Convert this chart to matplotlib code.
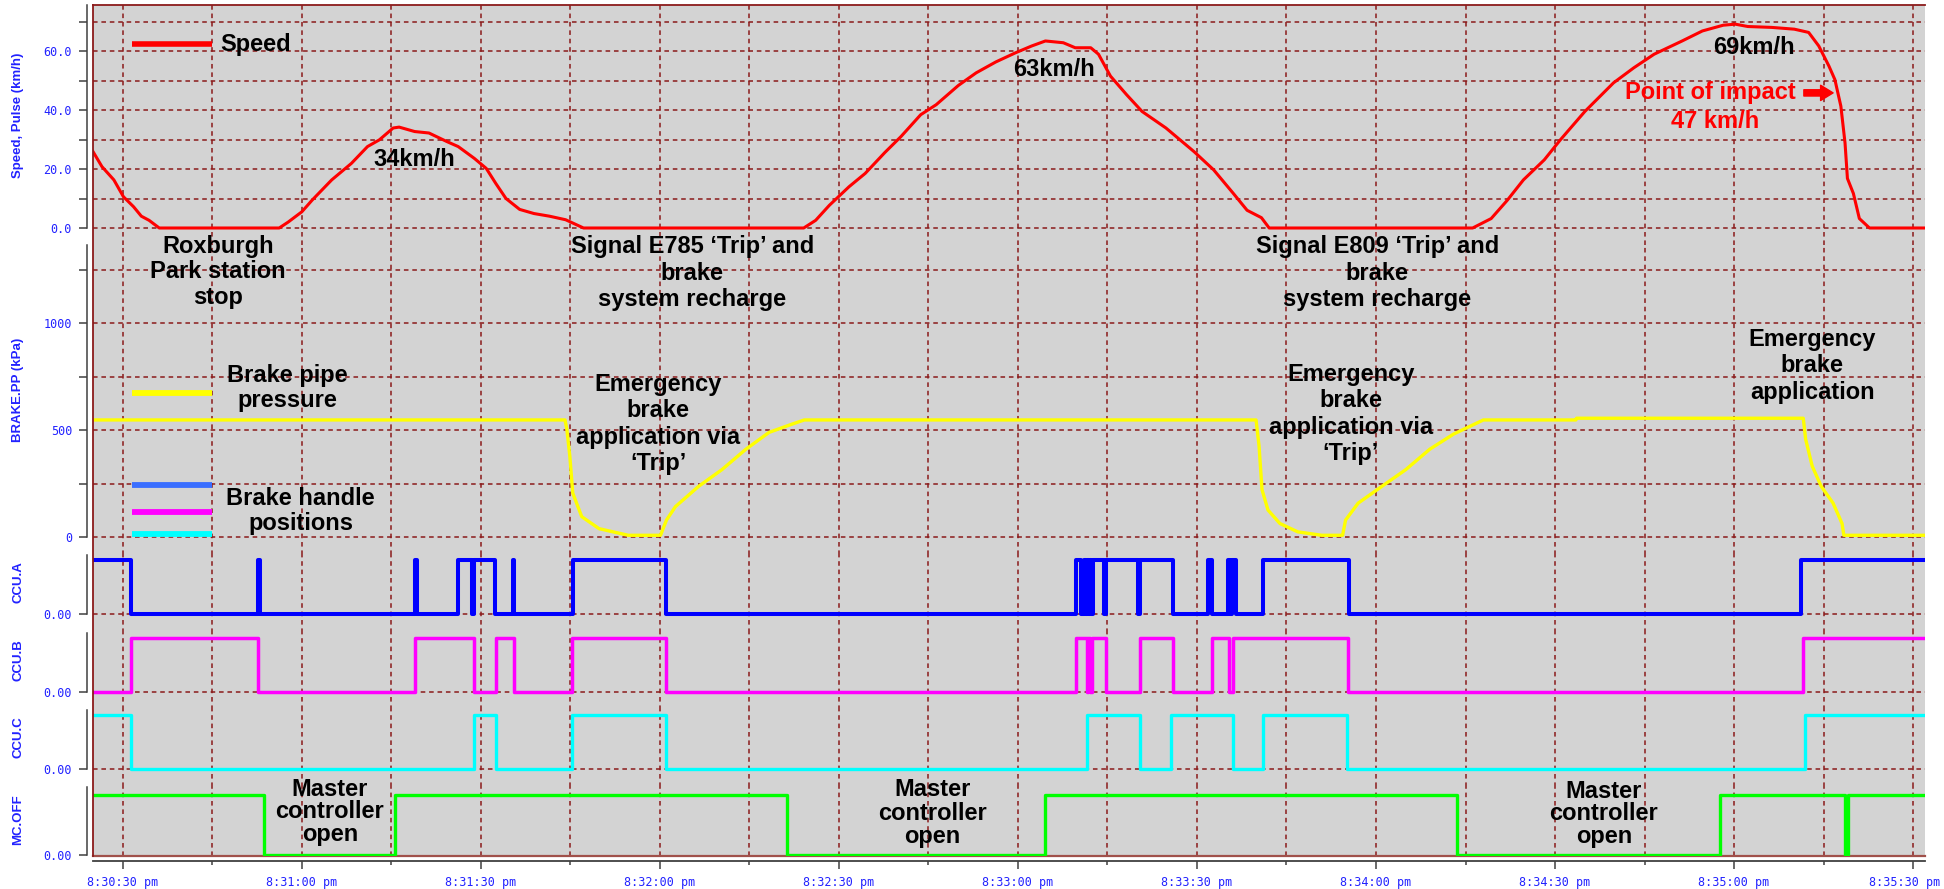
import matplotlib
matplotlib.use('Agg')
import matplotlib.pyplot as plt
import matplotlib.transforms as mtransforms
from matplotlib.lines import Line2D
from matplotlib.ticker import MultipleLocator, FixedLocator, FixedFormatter

# time in seconds after 8:30:00 pm
speed_t = [25, 26.5, 28.5, 30.1, 31.8, 33.1, 34.4, 36.1, 56.2, 57.7, 60, 61.7, 65, 68.3, 71, 73,
           75.3, 76.3, 78.9, 81.3, 84.3, 86.2, 88.9, 90.9, 92.5, 94.2, 96.5, 98.9, 101.5, 104.2, 107.2,
           144.1, 146.1, 148.4, 151.7, 154.4, 157.7, 160.4, 163.7, 166.3, 170, 173, 176.3, 179.6, 182.3,
           184.6, 187.6, 189.6, 192.2, 193.5, 195.5, 198.2, 200.8, 204.8, 209.5, 212.8, 216.1, 218.4,
           220.8, 222.1,
           256.2, 259.3, 262, 264.7, 268.2, 270.9, 275, 279.8, 283.2, 286.6, 291.3, 294.7, 298.2, 300.2,
           302.3, 306.3, 310.1, 312.5, 314.2, 315.9, 316.9, 317.9, 318.6, 319, 320, 321, 322.7, 332]
speed_v = [25.9, 20.8, 16.3, 10.6, 7.2, 4.0, 2.6, 0, 0, 2.0, 5.5, 9.4, 16.3, 21.9, 27.6, 29.9,
           33.9, 34.2, 32.7, 32.2, 29.3, 27.6, 23.6, 20.2, 15.1, 10.0, 6.3, 4.9, 4.0, 2.8, 0,
           0, 2.6, 7.7, 14.0, 18.5, 25.6, 31.0, 38.4, 41.8, 48.3, 52.6, 56.3, 59.4, 61.7,
           63.4, 62.8, 61.1, 61.1, 58.9, 51.5, 45.2, 39.5, 33.9, 25.9, 19.7, 11.7, 6.0,
           3.5, 0,
           0, 3.2, 9.4, 16.3, 23.1, 29.9, 39.5, 49.2, 54.3, 58.9, 63.4, 66.8, 68.75, 69.1,
           68.3, 68.0, 67.4, 66.3, 61.7, 54.9, 50.3, 41.3, 28.8, 16.8, 11.7, 3.2, 0, 0]

bp_t = [25, 104.1, 104.4, 104.9, 105.4, 106.9, 109.8, 114.7, 120.1, 121.1, 122.6, 126.5, 130.4, 134.4,
        138.3, 142.2, 144.2, 219.9, 220.4, 220.9, 221.9, 223.9, 226.9, 230.9, 234.4, 234.9, 237, 241,
        245, 249, 253, 258, 273.5, 273.6, 311.6, 312, 313.1, 314.6, 316.6, 318.1, 318.4, 332]
bp_v = [547, 547, 505, 379, 205, 95, 39, 8, 8, 79, 142, 237, 315, 410,
        489, 528, 547, 547, 426, 221, 126, 63, 24, 8, 8, 79, 158, 237,
        315, 410, 481, 547, 547, 555, 555, 457, 331, 237, 158, 63, 8, 8]

ccua_t = [25, 31.3, 52.7, 53.0, 79.0, 79.3, 86.2, 88.5, 88.9, 92.3, 95.3, 95.6, 105.4, 121.0,
          189.7, 190.5, 191.1, 191.4, 191.6, 191.9, 192.1, 192.3, 192.5, 194.5, 194.8, 200.2,
          200.5, 206.0, 211.8, 212.6, 215.2, 215.6, 215.9, 216.6, 221.1, 235.4, 311.3, 332]
ccua_v = [1, 0, 1, 0, 1, 0, 1, 0, 1, 0, 1, 0, 1, 0,
          1, 0, 1, 0, 1, 0, 1, 0, 1, 0, 1, 0,
          1, 0, 1, 0, 1, 0, 1, 0, 1, 0, 1, 1]

ccub_t = [25, 31.3, 52.7, 79.0, 88.8, 92.5, 95.5, 105.2, 121.1, 189.7, 191.6, 191.8, 192.1, 192.4,
          194.8, 200.4, 205.9, 212.6, 215.4, 216.0, 235.3, 311.6, 332]
ccub_v = [0, 1, 0, 1, 0, 1, 0, 1, 0, 1, 0, 1, 0, 1,
          0, 1, 0, 1, 0, 1, 0, 1, 1]

ccuc_t = [25, 31.3, 88.8, 92.5, 105.2, 121.0, 191.6, 200.4, 205.6, 216.1, 221.1, 235.1, 311.9, 332]
ccuc_v = [1, 0, 1, 0, 1, 0, 1, 0, 1, 0, 1, 0, 1, 1]

mc_t = [25, 53.6, 75.6, 141.3, 184.5, 253.6, 297.6, 318.6, 319.1, 332]
mc_v = [1, 0, 1, 0, 1, 0, 1, 0, 1, 1]

x_ticks = [30, 60, 90, 120, 150, 180, 210, 240, 270, 300, 330]
x_labels = ['8:30:30 pm', '8:31:00 pm', '8:31:30 pm', '8:32:00 pm', '8:32:30 pm', '8:33:00 pm',
            '8:33:30 pm', '8:34:00 pm', '8:34:30 pm', '8:35:00 pm', '8:35:30 pm']

W, H = 1944, 889
X0, X1 = 93, 1925
T0, T1 = 25, 332
BG = '#D3D3D3'
GRID = '#8B1A1A'
TICKBLUE = '#2222FF'
SPINE = '#404040'
PX = 0.72  # points per pixel at dpi 100

fig = plt.figure(figsize=(W / 100, H / 100), dpi=100)
fig.patch.set_facecolor('white')


def panel(top, bottom, lo, hi):
    ax = fig.add_axes([X0 / W, 1 - bottom / H, (X1 - X0) / W, (bottom - top) / H])
    ax.set_facecolor(BG)
    ax.set_xlim(T0, T1)
    ax.set_ylim(lo, hi)
    for s in ['top', 'right', 'bottom']:
        ax.spines[s].set_visible(False)
    ax.spines['left'].set_position(('outward', 6 * PX))
    ax.spines['left'].set_bounds(0, hi)
    ax.spines['left'].set_color(SPINE)
    ax.spines['left'].set_linewidth(1.1)
    ax.xaxis.set_major_locator(FixedLocator(x_ticks))
    ax.xaxis.set_minor_locator(MultipleLocator(15))
    ax.tick_params(axis='x', which='both', bottom=False, labelbottom=False)
    ax.tick_params(axis='y', which='both', direction='out', length=8 * PX, width=1.1, color=SPINE,
                   labelcolor=TICKBLUE, labelsize=8.5, pad=5, labelfontfamily='DejaVu Sans Mono')
    ax.grid(True, axis='x', which='both', color=GRID, linestyle=(0, (3, 2.5)), linewidth=1.1)
    ax.set_axisbelow(True)
    return ax


# speed panel
ax_sp = panel(5, 245, -(245 - 228) / 2.95, (228 - 5) / 2.95)
ax_sp.yaxis.set_major_locator(MultipleLocator(20))
ax_sp.yaxis.set_minor_locator(MultipleLocator(10))
ax_sp.yaxis.set_major_formatter('{x:.1f}')
ax_sp.grid(True, axis='y', which='both', color=GRID, linestyle=(0, (3, 2.5)), linewidth=1.1)
ax_sp.plot(speed_t, speed_v, color='#FF0000', lw=2.2)

# brake pipe panel
ax_bp = panel(245, 555, -(555 - 537) / 0.214, (537 - 245) / 0.214)
ax_bp.yaxis.set_major_locator(MultipleLocator(500))
ax_bp.yaxis.set_minor_locator(MultipleLocator(250))
ax_bp.yaxis.set_major_formatter('{x:.0f}')
ax_bp.grid(True, axis='y', which='both', color=GRID, linestyle=(0, (3, 2.5)), linewidth=1.1)
ax_bp.plot(bp_t, bp_v, color='#FFFF00', lw=2.4)

# brake handle panels
steps = [(555, 633, 614, ccua_t, ccua_v, '#0000FF', 2.9),
         (633, 710, 692, ccub_t, ccub_v, '#FF00FF', 2.5),
         (710, 787, 769, ccuc_t, ccuc_v, '#00FFFF', 2.4)]
for top, bot, zero, tt, vv, col, lw in steps:
    ax = panel(top, bot, -(bot - zero) / 54, (zero - top) / 54)
    ax.yaxis.set_major_locator(FixedLocator([0]))
    ax.yaxis.set_major_formatter(FixedFormatter(['0.00']))
    ax.grid(True, axis='y', which='major', color=GRID, linestyle=(0, (3, 2.5)), linewidth=1.1)
    ax.step(tt, vv, where='post', color=col, lw=lw)

# master controller panel
ax_mc = panel(787, 856, -(856 - 854.5) / 60, (854.5 - 787) / 60)
ax_mc.yaxis.set_major_locator(FixedLocator([0]))
ax_mc.yaxis.set_major_formatter(FixedFormatter(['0.00']))
ax_mc.axhline(ax_mc.get_ylim()[0], color='#A0504A', lw=1.6, zorder=1.5, clip_on=False)
ax_mc.step(mc_t, mc_v, where='post', color='#00FF00', lw=2.4, zorder=3)
ax_mc.spines['bottom'].set_visible(True)
ax_mc.spines['bottom'].set_position(('outward', 5 * PX))
ax_mc.spines['bottom'].set_color(SPINE)
ax_mc.spines['bottom'].set_linewidth(1.3)
ax_mc.xaxis.set_major_formatter(FixedFormatter(x_labels))
ax_mc.tick_params(axis='x', which='both', bottom=True, labelbottom=True, direction='out',
                  color=SPINE, width=1.1, labelcolor=TICKBLUE, labelsize=8.5, pad=5,
                  labelfontfamily='DejaVu Sans Mono')
ax_mc.tick_params(axis='x', which='major', length=8 * PX)
ax_mc.tick_params(axis='x', which='minor', length=4 * PX)

# plot border (top and left)
fig.add_artist(Line2D([X0 / W, X1 / W], [1 - 5 / H] * 2, color=GRID, lw=1.3, transform=fig.transFigure))
fig.add_artist(Line2D([X0 / W] * 2, [1 - 5 / H, 1 - 856 / H], color=GRID, lw=1.3, transform=fig.transFigure))

# axis titles
ylabels = [('Speed, Pulse (km/h)', 115), ('BRAKE.PP (kPa)', 390), ('CCU.A', 582),
           ('CCU.B', 660), ('CCU.C', 737), ('MC.OFF', 820)]
for txt, yc in ylabels:
    fig.text(18 / W, 1 - yc / H, txt, rotation=90, ha='center', va='center', color=TICKBLUE,
             fontsize=9.5, fontweight='bold', family='Liberation Sans')

tr = mtransforms.blended_transform_factory(ax_sp.transData, fig.transFigure)


def note(t, ypx, s, color='black', size=17, ha='center', ls=1.15):
    fig.text(t, 1 - ypx / H, s, transform=tr, ha=ha, va='center', color=color, fontsize=size,
             fontweight='bold', family='Liberation Sans', linespacing=ls, zorder=5)


def swatch(ypx, color, lw):
    fig.add_artist(Line2D([31.5, 45.0], [1 - ypx / H] * 2, transform=tr, color=color,
                          lw=lw, solid_capstyle='butt', zorder=5))


# legend-like labels
swatch(44, '#FF0000', 4.0)
note(46.3, 44, 'Speed', ha='left')
swatch(393, '#FFFF00', 4.2)
note(57.5, 388, 'Brake pipe\npressure')
swatch(485, '#3A6EFF', 4.2)
swatch(512, '#FF00FF', 4.2)
swatch(534, '#00FFFF', 4.2)
note(59.8, 511, 'Brake handle\npositions')

# annotations
note(78.8, 160, '34km/h')
note(186.0, 70, '63km/h')
note(303.3, 48, '69km/h')
note(296.0, 93, 'Point of impact', color='#FF0000')
note(296.8, 122, '47 km/h', color='#FF0000')
ax_sp.annotate('', xy=(316.6, 45.8), xytext=(311.7, 45.8),
               arrowprops=dict(arrowstyle='simple,head_length=0.9,head_width=1.1,tail_width=0.45',
                               color='#FF0000', mutation_scale=10, shrinkA=0, shrinkB=0))

note(45.9, 272, 'Roxburgh\nPark station\nstop')
note(125.4, 273, 'Signal E785 \u2018Trip\u2019 and\nbrake\nsystem recharge', ls=1.2)
note(240.2, 273, 'Signal E809 \u2018Trip\u2019 and\nbrake\nsystem recharge', ls=1.2)
note(119.7, 424, 'Emergency\nbrake\napplication via\n\u2018Trip\u2019', ls=1.2)
note(235.8, 414, 'Emergency\nbrake\napplication via\n\u2018Trip\u2019', ls=1.2)
note(313.1, 366, 'Emergency\nbrake\napplication', ls=1.2)
note(64.7, 812, 'Master\ncontroller\nopen', ls=1.0)
note(165.7, 813, 'Master\ncontroller\nopen', ls=1.0)
note(278.2, 814, 'Master\ncontroller\nopen', ls=1.0)

# keep the last time label inside the picture
fig.canvas.draw()
last = ax_mc.get_xticklabels()[-1]
last.set_horizontalalignment('right')
last.set_transform(last.get_transform() + mtransforms.ScaledTranslation(0.27, 0, fig.dpi_scale_trans))

fig.savefig('out.png', dpi=100, facecolor='white')
